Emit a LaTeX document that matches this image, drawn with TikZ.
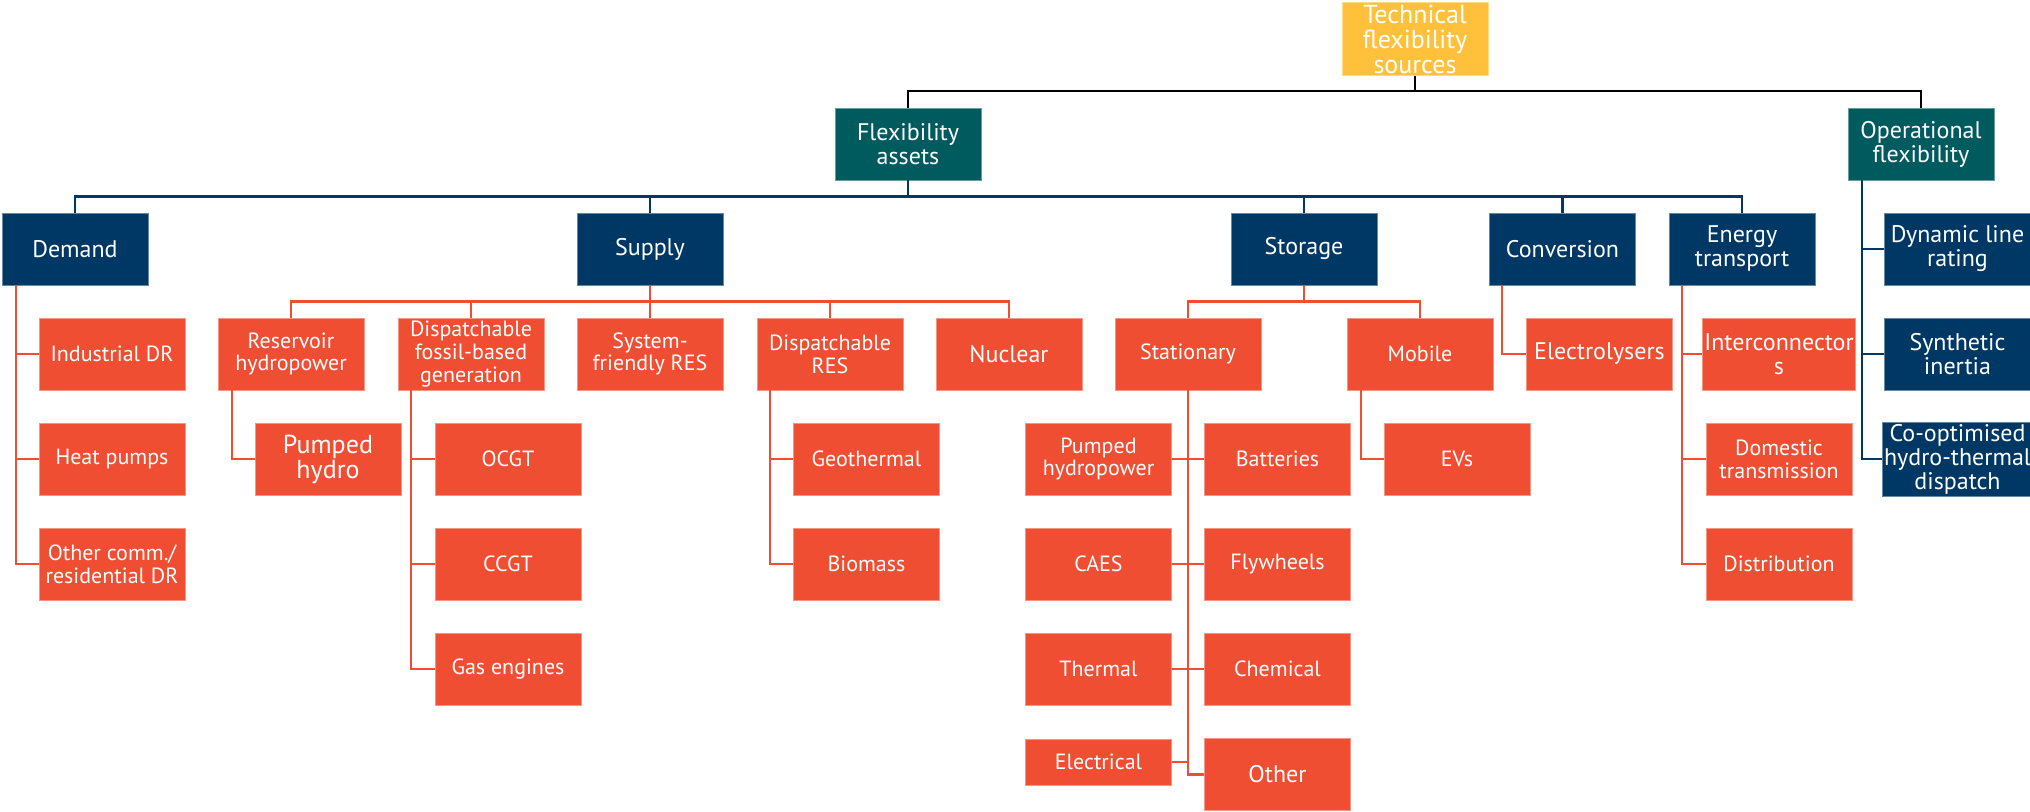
\documentclass[tikz,border=0pt]{standalone}
\usepackage{fontspec}
\setmainfont{PT Sans}
\usepackage{tikz}
\definecolor{navy}{HTML}{003865}
\definecolor{tealbox}{HTML}{005B5F}
\definecolor{redbox}{HTML}{F04E32}
\definecolor{goldbox}{HTML}{FFC13B}
\tikzset{
  box/.style={rectangle, minimum width=73pt, minimum height=36pt, inner sep=1pt,
    align=center, text=white, font=\fontsize{11}{11.4}\selectfont, line width=0.4pt},
  big/.style={font=\fontsize{12}{12}\selectfont},
  bigger/.style={font=\fontsize{13}{12.5}\selectfont},
  goldnode/.style={box, bigger, fill=goldbox, draw=goldbox!60!white},
  tealnode/.style={box, big, fill=tealbox, draw=tealbox!60!white},
  navynode/.style={box, big, fill=navy, draw=navy!60!white},
  rednode/.style={box, fill=redbox, draw=redbox!60!white},
  blackline/.style={line width=1pt, black},
  navyline/.style={line width=1.1pt, navy},
  redline/.style={line width=1.1pt, redbox}
}
\begin{document}
\begin{tikzpicture}[x=0.5pt, y=-0.5pt]
  \useasboundingbox (0,0) rectangle (2030,812);

  % Top levels
  \node[goldnode] (tech) at (1415,39) {Technical\\flexibility\\sources};
  \node[tealnode] (flex) at (908,144) {Flexibility\\assets};
  \node[tealnode] (oper) at (1921,144) {Operational\\flexibility};

  % Asset categories
  \node[navynode] (demand) at (75,249) {Demand};
  \node[navynode] (supply) at (650,249) {Supply};
  \node[navynode] (storage) at (1304,249) {Storage};
  \node[navynode] (conv) at (1562.5,249) {Conversion};
  \node[navynode] (transp) at (1742,249) {Energy\\transport};

  % Operational flexibility
  \node[navynode] (dlr) at (1957.5,249) {Dynamic line\\rating};
  \node[navynode] (synth) at (1957.5,354) {Synthetic\\inertia};
  \node[navynode] (coopt) at (1957.5,459) {Co-optimised\\hydro-thermal\\dispatch};

  % Demand
  \node[rednode] (inddr) at (112,354) {Industrial DR};
  \node[rednode] (heat) at (112,459) {Heat pumps};
  \node[rednode] (othdr) at (112,564) {Other comm./\\residential DR};

  % Supply
  \node[rednode] (reserv) at (291,354) {Reservoir\\hydropower};
  \node[rednode, bigger] (pumped) at (328,459) {Pumped\\hydro};
  \node[rednode] (fossil) at (471,354) {Dispatchable\\fossil-based\\generation};
  \node[rednode] (ocgt) at (508,459) {OCGT};
  \node[rednode] (ccgt) at (508,564) {CCGT};
  \node[rednode] (gas) at (508,669) {Gas engines};
  \node[rednode] (sysres) at (650,354) {System-\\friendly RES};
  \node[rednode] (disres) at (830,354) {Dispatchable\\RES};
  \node[rednode] (geo) at (866.5,459) {Geothermal};
  \node[rednode] (bio) at (866.5,564) {Biomass};
  \node[rednode, big] (nuclear) at (1009,354) {Nuclear};

  % Storage
  \node[rednode] (stat) at (1188,354) {Stationary};
  \node[rednode] (mobile) at (1420,354) {Mobile};
  \node[rednode] (evs) at (1457,459) {EVs};
  \node[rednode] (phydro) at (1098.5,459) {Pumped\\hydropower};
  \node[rednode] (caes) at (1098.5,564) {CAES};
  \node[rednode] (therm) at (1098.5,669) {Thermal};
  \node[rednode, minimum height=23pt] (elec) at (1098.5,762) {Electrical};
  \node[rednode] (batt) at (1277.5,459) {Batteries};
  \node[rednode] (fly) at (1277.5,564) {Flywheels};
  \node[rednode] (chem) at (1277.5,669) {Chemical};
  \node[rednode, big] (othst) at (1277.5,774.5) {Other};

  % Conversion and transport
  \node[rednode, big] (electro) at (1599.5,354) {Electrolysers};
  \node[rednode, big] (inter) at (1779,354) {Interconnector\\s};
  \node[rednode] (domest) at (1779,459) {Domestic\\transmission};
  \node[rednode] (distr) at (1779,564) {Distribution};

  % Top connectors
  \draw[blackline] (flex.north) -- ++(0,-17) -| (oper.north);
  \draw[blackline] (tech.south) -- ++(0,16);

  % Asset categories bus
  \draw[navyline] (flex.south) -- ++(0,17);
  \draw[navyline] (demand.north) -- ++(0,-16) -| (transp.north);
  \foreach \n in {supply,storage,conv}
    \draw[navyline] (\n.north) -- ++(0,-16);

  % Operational branches
  \foreach \n in {dlr,synth,coopt}
    \draw[navyline] (oper.south west) ++(14,0) |- (\n.west);

  % Supply bus
  \draw[redline] (reserv.north) -- ++(0,-16) -| (nuclear.north);
  \draw[redline] (supply.south) -- (sysres.north);
  \foreach \n in {fossil,disres}
    \draw[redline] (\n.north) -- ++(0,-16);

  % Storage bus
  \draw[redline] (stat.north) -- ++(0,-16) -| (mobile.north);
  \draw[redline] (storage.south) -- ++(0,17);

  % Side branches
  \foreach \n in {inddr,heat,othdr}
    \draw[redline] (demand.south west) ++(14,0) |- (\n.west);
  \draw[redline] (reserv.south west) ++(14,0) |- (pumped.west);
  \foreach \n in {ocgt,ccgt,gas}
    \draw[redline] (fossil.south west) ++(13,0) |- (\n.west);
  \foreach \n in {geo,bio}
    \draw[redline] (disres.south west) ++(13,0) |- (\n.west);
  \draw[redline] (mobile.south west) ++(14,0) |- (evs.west);
  \draw[redline] (conv.south west) ++(13,0) |- (electro.west);
  \foreach \n in {inter,domest,distr}
    \draw[redline] (transp.south west) ++(13,0) |- (\n.west);

  % Stationary storage
  \foreach \n in {phydro,caes,therm,elec}
    \draw[redline] (stat.south) |- (\n.east);
  \foreach \n in {batt,fly,chem,othst}
    \draw[redline] (stat.south) |- (\n.west);
\end{tikzpicture}
\end{document}
